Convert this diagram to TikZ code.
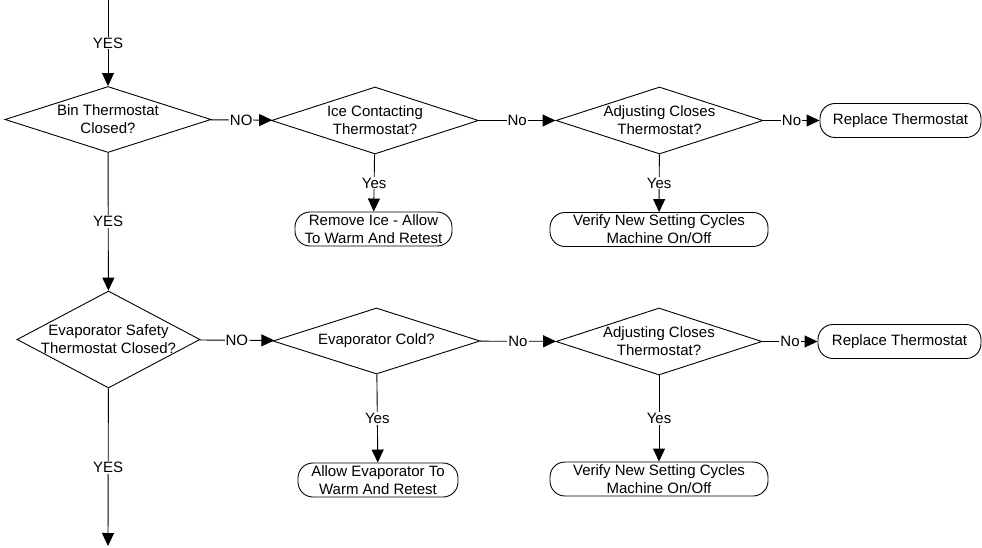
\documentclass[tikz,border=0pt]{standalone}
\usepackage{fontspec}
\setmainfont{Liberation Sans}
\usetikzlibrary{arrows.meta,shapes.geometric}

\begin{document}
\begin{tikzpicture}[x=1pt,y=-1pt,>={Triangle[length=13pt,width=12pt]},line width=0.9pt,
   font=\fontsize{15}{18}\selectfont,
   decision/.style={diamond,draw,align=center,inner xsep=-30pt,inner ysep=-12pt},
   terminal/.style={rectangle,draw,rounded corners=15pt,align=center,inner sep=0pt,minimum height=34pt},
   answer/.style={fill=white,inner sep=1pt}]
   \useasboundingbox (0,0) rectangle (982,548);

   % first check
   \coordinate (in) at (108,0);
   \node[decision,minimum width=206pt,minimum height=66pt] (bin)   at (108,119.5) {Bin Thermostat\\Closed?};
   \node[decision,minimum width=207pt,minimum height=67pt] (ice)   at (375,120.5) {Ice Contacting\\Thermostat?};
   \node[decision,minimum width=207pt,minimum height=67pt] (adj1)  at (659.5,120.5) {Adjusting Closes\\Thermostat?};
   \node[terminal,minimum width=157pt] (remove)   at (373.5,229)   {Remove Ice - Allow\\To Warm And Retest};
   \node[terminal,minimum width=218pt] (verify1)  at (659,229.5)   {Verify New Setting Cycles\\Machine On/Off};
   \node[terminal,minimum width=161pt] (replace1) at (900.5,120.5) {Replace Thermostat};

   % second check
   \node[decision,minimum width=183pt,minimum height=97pt] (safety) at (108.5,339.5) {Evaporator Safety\\Thermostat Closed?};
   \node[decision,minimum width=207pt,minimum height=66pt] (cold)   at (376.5,341)   {Evaporator Cold?};
   \node[decision,minimum width=206pt,minimum height=67pt] (adj2)   at (659,341.5)   {Adjusting Closes\\Thermostat?};
   \node[terminal,minimum width=160pt] (allow)    at (378,480)     {Allow Evaporator To\\Warm And Retest};
   \node[terminal,minimum width=218pt] (verify2)  at (659,479)     {Verify New Setting Cycles\\Machine On/Off};
   \node[terminal,minimum width=163pt] (replace2) at (899.5,341.5) {Replace Thermostat};
   \coordinate (out) at (108,546);

   \path[->] (in)     edge node[answer] {YES} (bin)
             (bin)    edge node[answer] {NO}  (ice)
                      edge node[answer] {YES} (safety)
             (ice)    edge node[answer] {No}  (adj1)
                      edge node[answer] {Yes} (remove)
             (adj1)   edge node[answer] {No}  (replace1)
                      edge node[answer] {Yes} (verify1)
             (safety) edge node[answer] {NO}  (cold)
                      edge node[answer] {YES} (out)
             (cold)   edge node[answer] {No}  (adj2)
                      edge node[answer] {Yes} (allow)
             (adj2)   edge node[answer] {No}  (replace2)
                      edge node[answer] {Yes} (verify2);
\end{tikzpicture}
\end{document}
